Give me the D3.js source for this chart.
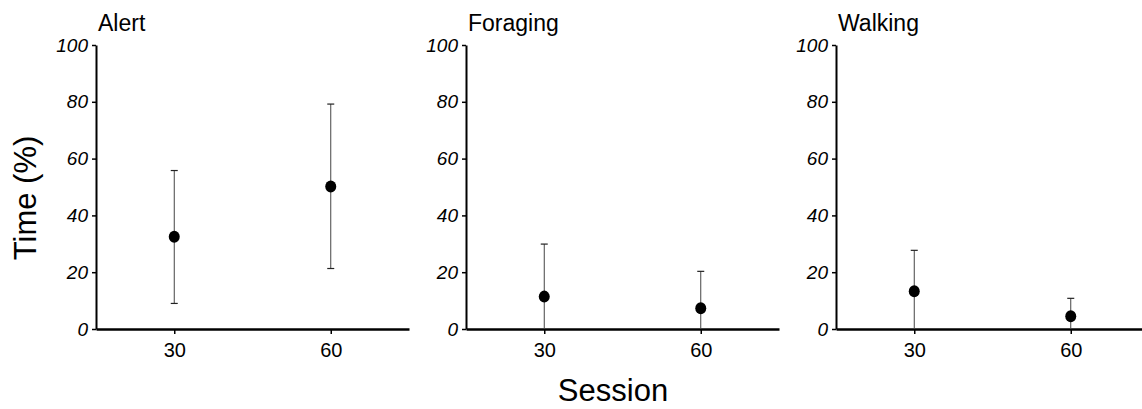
<!DOCTYPE html>
<html>
<head>
<meta charset="utf-8">
<script src="https://cdn.jsdelivr.net/npm/d3@7"></script>
<style>
  body { margin: 0; background: #fff; }
  text { font-family: "Liberation Sans", Arial, sans-serif; }
</style>
</head>
<body>
<svg id="chart" width="1142" height="409"></svg>
<script>
// behaviours (one panel each) and sessions
var behaviours = ["Alert", "Foraging", "Walking"];
var sessions = [30, 60];

// mean and error bar ends, per behaviour, in session order
var means = [[32.5, 50.2], [11.4, 7.3], [13.3, 4.5]];
var upper = [[55.8, 79.2], [29.9, 20.3], [27.7, 10.8]];
var lower = [[9.0, 21.3], [0, 0], [0, 0]];

var yTicks = [0, 20, 40, 60, 80, 100];

var svgWidth = 1142,
    svgHeight = 409,
    panelLeft = 96,
    panelStep = 370,
    panelWidth = 313,
    plotTop = 45,
    plotBottom = 329;

var svg = d3.select("#chart")
    .attr("width", svgWidth)
    .attr("height", svgHeight);

var y = d3.scaleLinear().domain([0, 100]).range([plotBottom, plotTop]);
var x = d3.scaleLinear().domain([15, 75]).range([0, panelWidth]);

behaviours.forEach(function(name, i) {
    var g = svg.append("g")
        .attr("transform", "translate(" + (panelLeft + i * panelStep) + ",0)");

    // y axis, italic numbers
    var ya = g.append("g")
        .call(d3.axisLeft(y).tickValues(yTicks).tickSize(4).tickSizeOuter(0).tickPadding(4));
    ya.attr("font-family", null);
    ya.select(".domain").attr("stroke-width", 2);
    ya.selectAll(".tick line").attr("stroke-width", 1.5);
    ya.selectAll("text")
        .style("font-size", "19px")
        .style("font-style", "italic")
        .attr("fill", "#000");

    // x axis
    var xa = g.append("g")
        .attr("transform", "translate(0," + plotBottom + ")")
        .call(d3.axisBottom(x).tickValues(sessions).tickSize(5).tickSizeOuter(0).tickPadding(9));
    xa.attr("font-family", null);
    xa.select(".domain").attr("stroke-width", 2.5);
    xa.selectAll(".tick line").attr("stroke-width", 1.5);
    xa.selectAll("text")
        .style("font-size", "20px")
        .attr("fill", "#000");

    // panel title
    g.append("text")
        .attr("x", 2)
        .attr("y", 31)
        .style("font-size", "23px")
        .text(name);

    var pts = sessions.map(function(s, j) {
        return {s: s, m: means[i][j], hi: upper[i][j], lo: lower[i][j]};
    });

    var bars = g.selectAll(".err")
        .data(pts)
        .enter()
        .append("g");

    bars.append("line")
        .attr("x1", function(d) { return x(d.s); })
        .attr("x2", function(d) { return x(d.s); })
        .attr("y1", function(d) { return y(d.lo); })
        .attr("y2", function(d) { return y(d.hi); })
        .attr("stroke", "#444")
        .attr("stroke-width", 1);

    // caps (none where the bar runs down to the axis)
    bars.append("line")
        .attr("x1", function(d) { return x(d.s) - 3.5; })
        .attr("x2", function(d) { return x(d.s) + 3.5; })
        .attr("y1", function(d) { return y(d.hi); })
        .attr("y2", function(d) { return y(d.hi); })
        .attr("stroke", "#222")
        .attr("stroke-width", 1.2);

    bars.filter(function(d) { return d.lo > 0; })
        .append("line")
        .attr("x1", function(d) { return x(d.s) - 3.5; })
        .attr("x2", function(d) { return x(d.s) + 3.5; })
        .attr("y1", function(d) { return y(d.lo); })
        .attr("y2", function(d) { return y(d.lo); })
        .attr("stroke", "#222")
        .attr("stroke-width", 1.2);

    bars.append("ellipse")
        .attr("cx", function(d) { return x(d.s); })
        .attr("cy", function(d) { return y(d.m); })
        .attr("rx", 5.5)
        .attr("ry", 6)
        .attr("fill", "#000");
});

// shared axis titles
svg.append("text")
    .attr("transform", "translate(36,198) rotate(-90)")
    .attr("text-anchor", "middle")
    .style("font-size", "31px")
    .text("Time (%)");

svg.append("text")
    .attr("x", 613)
    .attr("y", 401)
    .attr("text-anchor", "middle")
    .style("font-size", "31px")
    .text("Session");
</script>
</body>
</html>
